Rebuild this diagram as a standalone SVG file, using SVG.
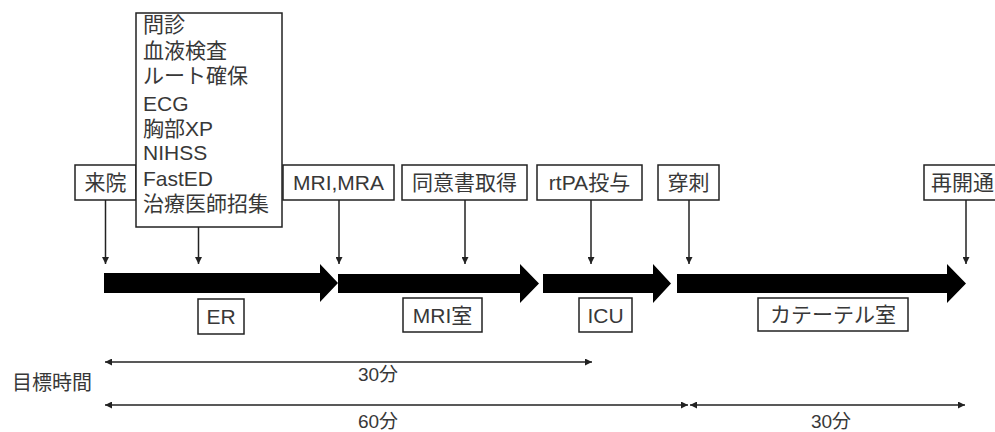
<svg xmlns="http://www.w3.org/2000/svg" width="995" height="432" viewBox="0 0 995 432">
<defs>
<style>
text{font-family:"Liberation Sans","Noto Sans CJK JP",sans-serif;font-size:21px;fill:#383838}
.box{fill:#fff;stroke:#222;stroke-width:1.5}
.lbl{text-anchor:middle}
.vl{stroke:#222;stroke-width:1.5;fill:none}
.dim{stroke:#222;stroke-width:1.5;fill:none}
.big{fill:#000}
</style>
<marker id="tip" viewBox="0 0 10 10" refX="10" refY="5" markerWidth="7" markerHeight="7" markerUnits="userSpaceOnUse" orient="auto-start-reverse">
<path d="M0,0L10,5L0,10z" fill="#222"/>
</marker>
</defs>
<rect width="995" height="432" fill="#fff"/>
<g id="connectors">
<line class="vl" x1="105.5" y1="200" x2="105.5" y2="264" marker-end="url(#tip)"/>
<line class="vl" x1="198.5" y1="227" x2="198.5" y2="264" marker-end="url(#tip)"/>
<line class="vl" x1="339" y1="200" x2="339" y2="264" marker-end="url(#tip)"/>
<line class="vl" x1="465" y1="200" x2="465" y2="264" marker-end="url(#tip)"/>
<line class="vl" x1="591" y1="200" x2="591" y2="264" marker-end="url(#tip)"/>
<line class="vl" x1="689" y1="200" x2="689" y2="264" marker-end="url(#tip)"/>
<line class="vl" x1="966" y1="200" x2="966" y2="264" marker-end="url(#tip)"/>
<line class="dim" x1="105" y1="362" x2="592" y2="362" marker-start="url(#tip)" marker-end="url(#tip)"/>
<line class="dim" x1="105" y1="405" x2="688" y2="405" marker-start="url(#tip)" marker-end="url(#tip)"/>
<line class="dim" x1="690" y1="405" x2="965" y2="405" marker-start="url(#tip)" marker-end="url(#tip)"/>
</g>
<g id="flow-arrows">
<polygon class="big" points="104,273 320,273 320,264 338,283 320,302 320,293 104,293"/>
<polygon class="big" points="338,274 520,274 520,264 539,283.5 520,303 520,293 338,293"/>
<polygon class="big" points="543,274 653,274 653,264 671,283.5 653,303 653,293 543,293"/>
<polygon class="big" points="677,274 947,274 947,264 966,283.5 947,303 947,293 677,293"/>
</g>
<g id="n-raiin"><rect class="box" x="75" y="165" width="61" height="35"/><text class="lbl" x="105.5" y="190">来院</text></g>
<g id="n-er-tasks"><rect class="box" x="136" y="13" width="146" height="214"/>
<text x="143" y="32">問診</text>
<text x="143" y="57.6">血液検査</text>
<text x="143" y="83.2">ルート確保</text>
<text x="143" y="110.8">ECG</text>
<text x="143" y="136.4">胸部XP</text>
<text x="143" y="160">NIHSS</text>
<text x="143" y="185.6">FastED</text>
<text x="143" y="211">治療医師招集</text>
</g>
<g id="n-mri"><rect class="box" x="283" y="165" width="111" height="35"/><text class="lbl" x="338.5" y="190">MRI,MRA</text></g>
<g id="n-consent"><rect class="box" x="402" y="165" width="125" height="35"/><text class="lbl" x="464.5" y="190">同意書取得</text></g>
<g id="n-rtpa"><rect class="box" x="537" y="165" width="105" height="35"/><text class="lbl" x="589.5" y="190">rtPA投与</text></g>
<g id="n-puncture"><rect class="box" x="658" y="165" width="61" height="35"/><text class="lbl" x="688.5" y="190">穿刺</text></g>
<g id="n-recan"><rect class="box" x="924" y="165" width="80" height="35"/><text x="931" y="190">再開通</text></g>
<g id="n-er"><rect class="box" x="198" y="299" width="46" height="35"/><text class="lbl" x="221" y="324">ER</text></g>
<g id="n-mriroom"><rect class="box" x="403" y="298" width="79" height="34"/><text class="lbl" x="442.5" y="323">MRI室</text></g>
<g id="n-icu"><rect class="box" x="579" y="298" width="53" height="34"/><text class="lbl" x="605.5" y="323">ICU</text></g>
<g id="n-cath"><rect class="box" x="758" y="298" width="150" height="33"/><text class="lbl" x="833" y="322">カテーテル室</text></g>
<g id="labels">
<text x="12" y="390" style="font-size:20px">目標時間</text>
<text class="lbl" x="378" y="381" style="font-size:19px">30分</text>
<text class="lbl" x="378" y="428" style="font-size:19px">60分</text>
<text class="lbl" x="831" y="428" style="font-size:19px">30分</text>
</g>
</svg>
